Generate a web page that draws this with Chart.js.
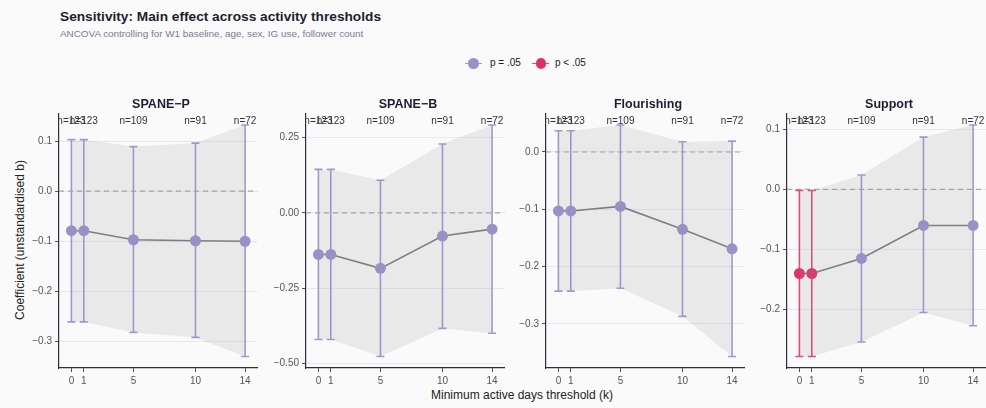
<!DOCTYPE html>
<html>
<head>
<meta charset="utf-8">
<script src="https://cdn.jsdelivr.net/npm/chart.js@4/dist/chart.umd.min.js"></script>
<style>
  html, body { margin:0; padding:0; }
  body { width:986px; height:408px; overflow:hidden; position:relative; background:#fafafa; font-family:"Liberation Sans", Arial, sans-serif; }
  canvas { position:absolute; }
  .t { position:absolute; white-space:nowrap; }
  #title { left:60px; top:9px; font-size:13.7px; font-weight:bold; color:#1e1e2e; }
  #subtitle { left:60px; top:28px; font-size:9.9px; color:#7a7a96; }
  .ptitle { top:97px; font-size:12.5px; font-weight:bold; color:#1e1e2e; transform:translateX(-50%); }
  #ylab { left:20px; top:240px; font-size:12px; color:#222; transform:translate(-50%,-50%) rotate(-90deg); }
  #xlab { left:522px; top:388px; font-size:12px; color:#222; transform:translateX(-50%); }
  .leg { position:absolute; top:57px; font-size:10px; color:#222; }
  .legline { position:absolute; top:62.5px; height:1.6px; width:17px; }
  .legdot { position:absolute; top:58px; width:10.5px; height:10.5px; border-radius:50%; }
</style>
</head>
<body>
<div id="title" class="t">Sensitivity: Main effect across activity thresholds</div>
<div id="subtitle" class="t">ANCOVA controlling for W1 baseline, age, sex, IG use, follower count</div>

<div class="legline" style="left:465px;background:#a396d3"></div>
<div class="legdot" style="left:468px;background:#9c8fcc"></div>
<div class="leg" style="left:490px">p = .05</div>
<div class="legline" style="left:532px;background:#e4477a"></div>
<div class="legdot" style="left:535.5px;background:#e0306a"></div>
<div class="leg" style="left:555px">p &lt; .05</div>

<div id="ylab" class="t">Coefficient (unstandardised b)</div>
<div id="xlab" class="t">Minimum active days threshold (k)</div>

<script>
// ---- data ----
const thresholds = [0, 1, 5, 10, 14];
const nLabels = ['n=123', 'n=123', 'n=109', 'n=91', 'n=72'];
const panelNames = ['SPANE\u2212P', 'SPANE\u2212B', 'Flourishing', 'Support'];

const spanePEst = [-0.079, -0.079, -0.097, -0.099, -0.100];
const spanePLo  = [-0.261, -0.261, -0.282, -0.292, -0.330];
const spanePHi  = [ 0.103,  0.103,  0.089,  0.096,  0.132];
const spanePSig = [false, false, false, false, false];

const spaneBEst = [-0.138, -0.138, -0.184, -0.077, -0.054];
const spaneBLo  = [-0.420, -0.420, -0.476, -0.383, -0.399];
const spaneBHi  = [ 0.144,  0.144,  0.108,  0.228,  0.291];
const spaneBSig = [false, false, false, false, false];

const flourEst = [-0.103, -0.103, -0.095, -0.135, -0.169];
const flourLo  = [-0.243, -0.243, -0.238, -0.287, -0.357];
const flourHi  = [ 0.037,  0.037,  0.047,  0.018,  0.019];
const flourSig = [false, false, false, false, false];

const supportEst = [-0.140, -0.140, -0.115, -0.060, -0.060];
const supportLo  = [-0.278, -0.278, -0.254, -0.205, -0.227];
const supportHi  = [-0.002, -0.002,  0.024,  0.087,  0.107];
const supportSig = [true, true, false, false, false];

const yTicksP = [0.1, 0, -0.1, -0.2, -0.3];
const yTickLabelsP = ['0.1', '0.0', '\u22120.1', '\u22120.2', '\u22120.3'];
const yTicksB = [0.25, 0, -0.25, -0.5];
const yTickLabelsB = ['0.25', '0.00', '\u22120.25', '\u22120.50'];
const yTicksF = [0, -0.1, -0.2, -0.3];
const yTickLabelsF = ['0.0', '\u22120.1', '\u22120.2', '\u22120.3'];
const yTicksS = [0.1, 0, -0.1, -0.2];
const yTickLabelsS = ['0.1', '0.0', '\u22120.1', '\u22120.2'];

// ---- styling / layout ----
const COL_NS = '#9c8fcc', COL_NS_BAR = '#a396d3';
const COL_SIG = '#e0306a', COL_SIG_BAR = '#e4477a';
const AXIS_X = [59, 306, 546, 787];
const Y_AXIS_W = 50, PLOT_W = 204, TOP = 108, PAD_TOP = 5, X_AXIS_H = 20, PLOT_BOTTOM = 368;
const FONT = '"Liberation Sans", Arial, sans-serif';

const panels = [
  {est: spanePEst, lo: spanePLo, hi: spanePHi, sig: spanePSig, ticks: yTicksP, tickLabels: yTickLabelsP},
  {est: spaneBEst, lo: spaneBLo, hi: spaneBHi, sig: spaneBSig, ticks: yTicksB, tickLabels: yTickLabelsB},
  {est: flourEst, lo: flourLo, hi: flourHi, sig: flourSig, ticks: yTicksF, tickLabels: yTickLabelsF},
  {est: supportEst, lo: supportLo, hi: supportHi, sig: supportSig, ticks: yTicksS, tickLabels: yTickLabelsS},
];

function zeroPad(s) { s.paddingTop = 0; s.paddingBottom = 0; s.paddingLeft = 0; s.paddingRight = 0; }

const facetPlugin = {
  id: 'facet',
  beforeDatasetDraw(chart, args) {
    if (args.index !== 2) return;
    const p = chart.options.plugins.facet.panel;
    const {ctx, chartArea} = chart;
    const xs = chart.scales.x, ys = chart.scales.y;
    ctx.save();
    ctx.beginPath();
    ctx.rect(chartArea.left, chartArea.top, chartArea.right - chartArea.left, chartArea.bottom - chartArea.top);
    ctx.clip();
    // zero reference line
    ctx.strokeStyle = '#a6a6a6';
    ctx.lineWidth = 1.1;
    ctx.setLineDash([5, 4]);
    const y0 = ys.getPixelForValue(0);
    ctx.beginPath();
    ctx.moveTo(chartArea.left, y0);
    ctx.lineTo(chartArea.right, y0);
    ctx.stroke();
    ctx.setLineDash([]);
    // error bars
    ctx.lineWidth = 1.6;
    thresholds.forEach((k, i) => {
      const x = xs.getPixelForValue(k);
      const yl = ys.getPixelForValue(p.lo[i]);
      const yh = ys.getPixelForValue(p.hi[i]);
      ctx.strokeStyle = p.sig[i] ? COL_SIG_BAR : COL_NS_BAR;
      ctx.beginPath();
      ctx.moveTo(x, yl); ctx.lineTo(x, yh);
      ctx.moveTo(x - 4, yl); ctx.lineTo(x + 4, yl);
      ctx.moveTo(x - 4, yh); ctx.lineTo(x + 4, yh);
      ctx.stroke();
    });
    ctx.restore();
  },
  afterDatasetsDraw(chart) {
    const {ctx, chartArea} = chart;
    const xs = chart.scales.x;
    ctx.save();
    ctx.beginPath();
    ctx.rect(chartArea.left, 0, chart.width, chart.height);
    ctx.clip();
    ctx.fillStyle = '#333';
    ctx.font = '10px ' + FONT;
    ctx.textAlign = 'center';
    ctx.textBaseline = 'middle';
    thresholds.forEach((k, i) => {
      ctx.fillText(nLabels[i], xs.getPixelForValue(k), chartArea.top + 8);
    });
    ctx.restore();
  }
};

panels.forEach((p, pi) => {
  const left = AXIS_X[pi] - Y_AXIS_W;
  const cv = document.createElement('canvas');
  const w = Y_AXIS_W + PLOT_W, h = PLOT_BOTTOM - TOP + X_AXIS_H;
  cv.width = w; cv.height = h;
  cv.style.left = left + 'px'; cv.style.top = TOP + 'px';
  cv.style.width = w + 'px'; cv.style.height = h + 'px';
  document.body.appendChild(cv);

  const t = document.createElement('div');
  t.className = 't ptitle';
  t.style.left = (AXIS_X[pi] + PLOT_W / 2) + 'px';
  t.textContent = panelNames[pi];
  document.body.appendChild(t);

  const dmin = Math.min(...p.lo), dmax = Math.max(...p.hi);
  const exp = (dmax - dmin) * 0.05;

  new Chart(cv, {
    type: 'line',
    data: {
      datasets: [
        { data: thresholds.map((k, i) => ({x: k, y: p.lo[i]})), borderWidth: 0, pointRadius: 0, fill: false, tension: 0 },
        { data: thresholds.map((k, i) => ({x: k, y: p.hi[i]})), borderWidth: 0, pointRadius: 0, fill: '-1', backgroundColor: 'rgba(150,150,150,0.16)', tension: 0 },
        { data: thresholds.map((k, i) => ({x: k, y: p.est[i]})), borderColor: '#7a7a7a', borderWidth: 1.6, tension: 0, fill: false,
          pointRadius: 5.5, pointBorderWidth: 0, pointHoverRadius: 5.5,
          pointBackgroundColor: p.sig.map(s => s ? COL_SIG : COL_NS), clip: false }
      ]
    },
    options: {
      responsive: false,
      animation: false,
      events: [],
      layout: { padding: { top: PAD_TOP, right: 0, left: 0, bottom: 0 } },
      plugins: { legend: { display: false }, tooltip: { enabled: false }, facet: { panel: p } },
      scales: {
        x: {
          type: 'linear', min: -1, max: 15,
          afterBuildTicks(s) { s.ticks = thresholds.map(v => ({value: v})); },
          afterFit(s) { s.height = X_AXIS_H; zeroPad(s); },
          grid: { drawOnChartArea: false, drawTicks: true, tickLength: 4, tickColor: '#555', tickWidth: 1 },
          border: { display: true, color: '#2e2e3e', width: 1.2 },
          ticks: { color: '#555', font: { size: 10, family: FONT }, padding: 3, maxRotation: 0, autoSkip: false,
                   callback: (v) => String(v) }
        },
        y: {
          type: 'linear', min: dmin - exp, max: dmax + exp,
          afterBuildTicks(s) { s.ticks = p.ticks.map(v => ({value: v})); },
          afterFit(s) { s.width = Y_AXIS_W; zeroPad(s); },
          grid: { color: '#e9e6f2', lineWidth: 1, drawTicks: true, tickLength: 4, tickColor: '#555', tickWidth: 1 },
          border: { display: true, color: '#2e2e3e', width: 1.2 },
          ticks: { color: '#555', font: { size: 10, family: FONT }, padding: 3, autoSkip: false,
                   callback: (v) => { const i = p.ticks.findIndex(t => Math.abs(t - v) < 1e-9); return i >= 0 ? p.tickLabels[i] : ''; } }
        }
      }
    },
    plugins: [facetPlugin]
  });
});
</script>
</body>
</html>
